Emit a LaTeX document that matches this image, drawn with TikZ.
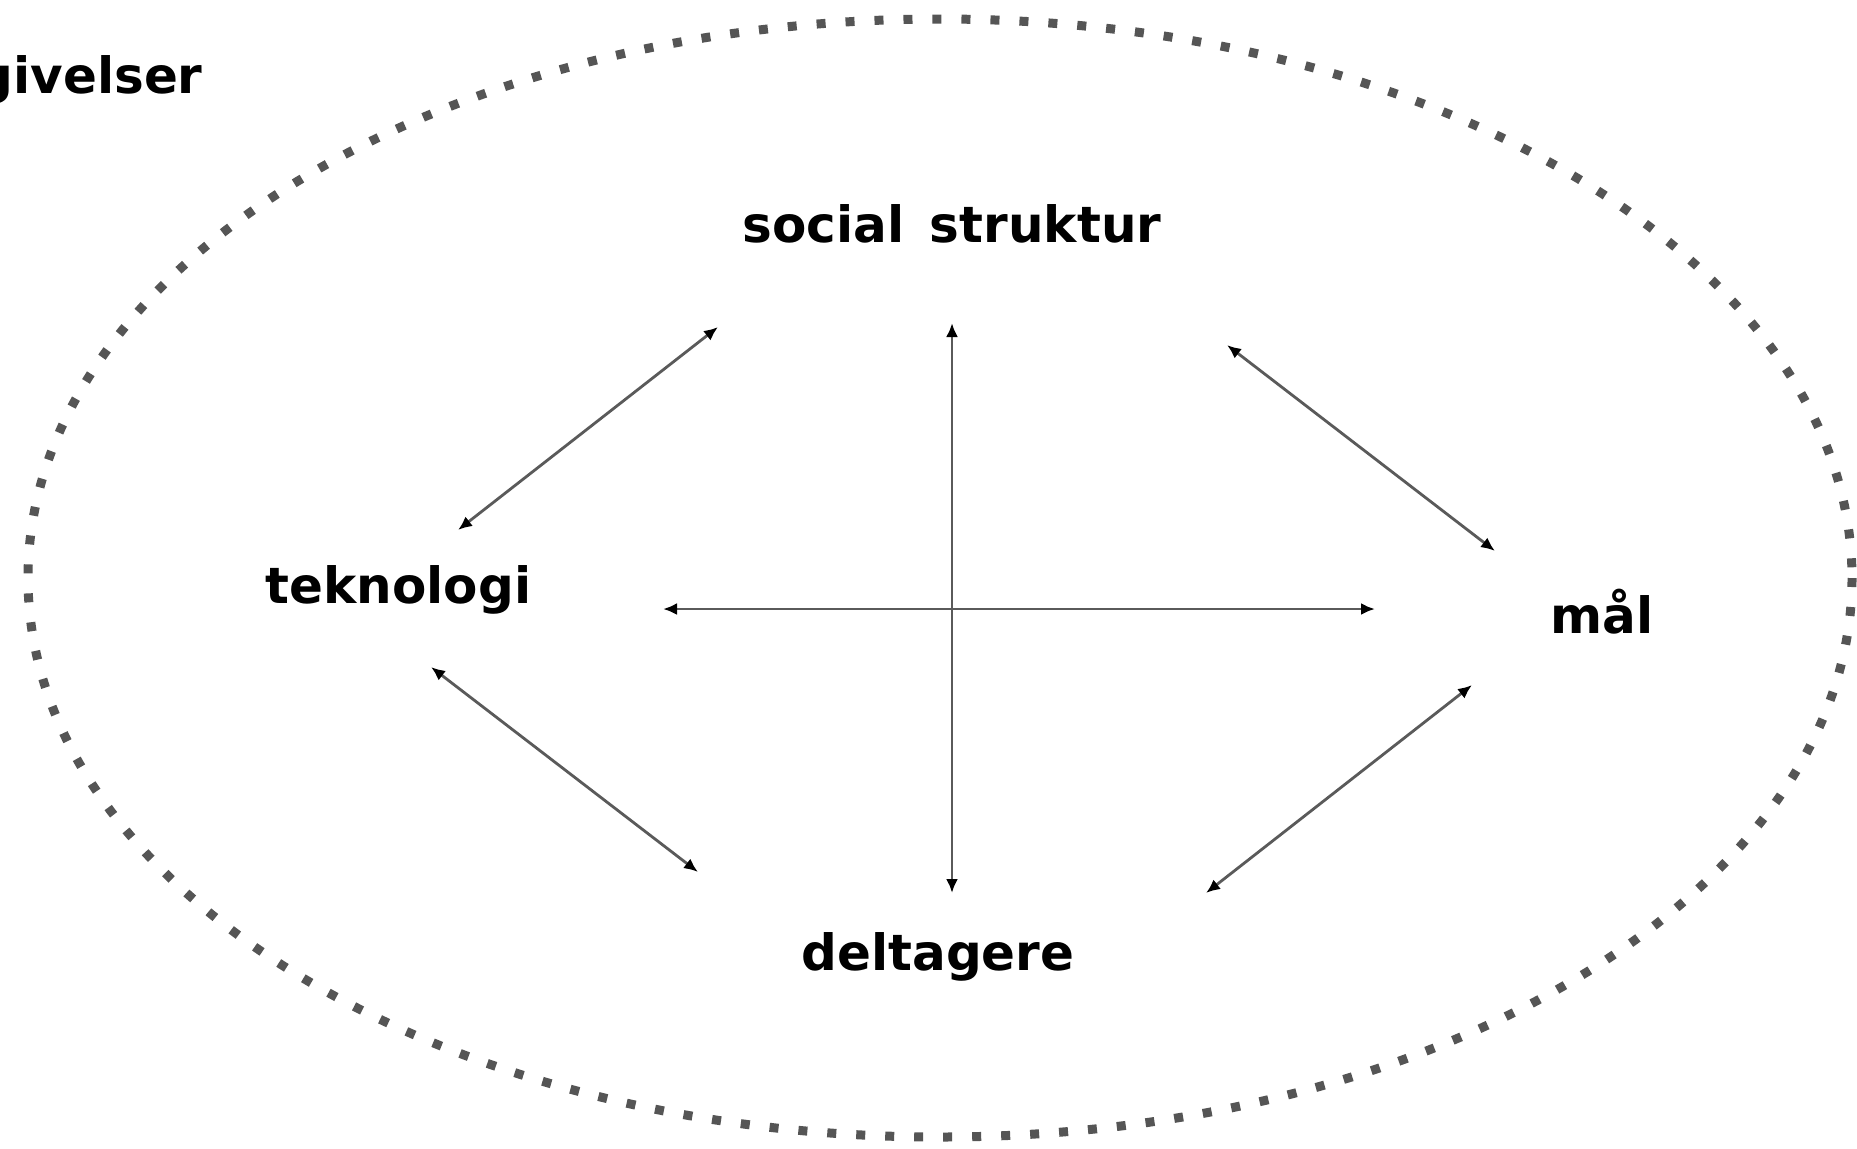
\documentclass[tikz,border=0pt]{standalone}
\usepackage{fontspec}
\setmainfont{DejaVu Sans}
\usetikzlibrary{arrows.meta}
\definecolor{dotgray}{RGB}{85,85,85}
\definecolor{linegray}{RGB}{90,90,90}
\begin{document}
\begin{tikzpicture}[x=0.5pt,y=-0.5pt,
  label/.style={inner sep=0pt,font=\fontsize{25}{30}\selectfont\bfseries},
  link/.style={draw=linegray,line width=1.4pt,
    {Latex[length=7pt,width=6pt,color=black]}-{Latex[length=7pt,width=6pt,color=black]}},
  border/.style={draw=dotgray,line width=4.5pt,dash pattern=on 4.5pt off 10pt}]
\useasboundingbox (0,0) rectangle (1857,1148);
\clip (0,0) rectangle (1857,1148);
\fill[white] (0,0) rectangle (1857,1148);

% dotted boundary of the environment
\draw[border] (940,578) ellipse [x radius=912, y radius=559];

% labels
\node[label,anchor=base east] (env) at (203,93) {givelser};
\node[label,anchor=base] (social) at (952,242) {social\hspace{4pt} struktur};
\node[label,anchor=base] (tek) at (398.5,603) {teknologi};
\node[label,anchor=base] (maal) at (1602,633) {mål};
\node[label,anchor=base] (delt) at (938,970) {deltagere};

% arrow end points
\coordinate (tekA) at (458,530);
\coordinate (socA) at (718,327);
\coordinate (socB) at (952,323);
\coordinate (delB) at (952,893);
\coordinate (socC) at (1227,345);
\coordinate (maalC) at (1495,551);
\coordinate (tekD) at (663,609);
\coordinate (maalD) at (1375,609);
\coordinate (tekE) at (431,667);
\coordinate (delE) at (698,872);
\coordinate (maalF) at (1472,685);
\coordinate (delF) at (1206,893);

% relations
\draw[link] (tekA) -- (socA);
\draw[link] (socB) -- (delB);
\draw[link] (socC) -- (maalC);
\draw[link] (tekD) -- (maalD);
\draw[link] (tekE) -- (delE);
\draw[link] (maalF) -- (delF);
\end{tikzpicture}
\end{document}
